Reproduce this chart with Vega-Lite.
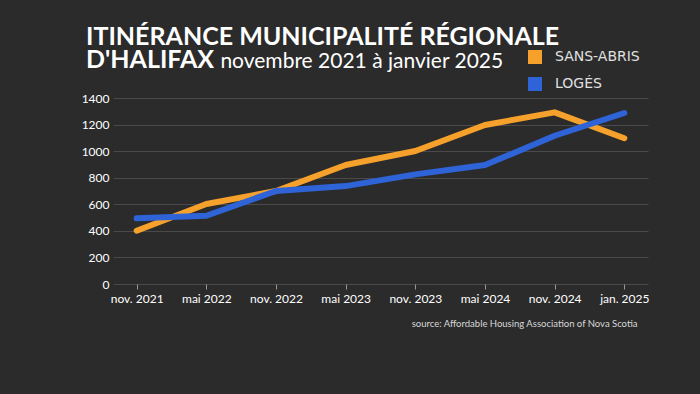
{
  "$schema": "https://vega.github.io/schema/vega-lite/v6.json",
  "width": 535,
  "height": 186,
  "autosize": "none",
  "padding": {"left": 113, "top": 98, "right": 52, "bottom": 110},
  "background": "#2b2b2b",
  "title": {
    "text": ["ITINÉRANCE MUNICIPALITÉ RÉGIONALE", "D'HALIFAX"],
    "subtitle": "\u200b\u00a0\u00a0\u00a0\u00a0\u00a0\u00a0\u00a0\u00a0\u00a0\u00a0\u00a0\u00a0\u00a0\u00a0\u00a0\u00a0\u00a0\u00a0\u00a0\u00a0\u00a0\u00a0\u00a0\u00a0\u00a0novembre 2021 à janvier 2025",
    "anchor": "start",
    "frame": "group",
    "dx": -27,
    "offset": -23,
    "font": "Lato",
    "fontSize": 25,
    "fontWeight": "bold",
    "color": "#ffffff",
    "lineHeight": 23,
    "subtitleFont": "Lato",
    "subtitleFontSize": 21,
    "subtitleColor": "#ffffff",
    "subtitlePadding": -22
  },
  "data": {
    "values": [
      {"mois": "nov. 2021", "serie": "SANS-ABRIS", "valeur": 401},
      {"mois": "mai 2022", "serie": "SANS-ABRIS", "valeur": 602},
      {"mois": "nov. 2022", "serie": "SANS-ABRIS", "valeur": 700},
      {"mois": "mai 2023", "serie": "SANS-ABRIS", "valeur": 896},
      {"mois": "nov. 2023", "serie": "SANS-ABRIS", "valeur": 1001},
      {"mois": "mai 2024", "serie": "SANS-ABRIS", "valeur": 1197},
      {"mois": "nov. 2024", "serie": "SANS-ABRIS", "valeur": 1292},
      {"mois": "jan. 2025", "serie": "SANS-ABRIS", "valeur": 1097},
      {"mois": "nov. 2021", "serie": "LOGÉS", "valeur": 494},
      {"mois": "mai 2022", "serie": "LOGÉS", "valeur": 514},
      {"mois": "nov. 2022", "serie": "LOGÉS", "valeur": 700},
      {"mois": "mai 2023", "serie": "LOGÉS", "valeur": 737},
      {"mois": "nov. 2023", "serie": "LOGÉS", "valeur": 825},
      {"mois": "mai 2024", "serie": "LOGÉS", "valeur": 895},
      {"mois": "nov. 2024", "serie": "LOGÉS", "valeur": 1116},
      {"mois": "jan. 2025", "serie": "LOGÉS", "valeur": 1287}
    ]
  },
  "mark": {"type": "line", "strokeWidth": 6, "strokeCap": "round", "strokeJoin": "round"},
  "encoding": {
    "x": {
      "field": "mois",
      "type": "ordinal",
      "sort": null,
      "scale": {"type": "point", "padding": 0.34},
      "axis": {
        "title": "source: Affordable Housing Association of Nova Scotia",
        "titleFont": "Lato",
        "titleFontSize": 9.5,
        "titleFontWeight": "normal",
        "titleColor": "#d8d8d8",
        "titleAnchor": "end",
        "titleAlign": "right",
        "titleX": 524,
        "titleY": 42,
        "titleBaseline": "alphabetic",
        "labelAngle": 0,
        "labelColor": "#ffffff",
        "labelFont": "Lato",
        "labelFontSize": 12,
        "labelPadding": 4,
        "domain": false,
        "tickColor": "#9a9a9a",
        "tickSize": 5,
        "grid": false
      }
    },
    "y": {
      "field": "valeur",
      "type": "quantitative",
      "scale": {"domain": [0, 1400]},
      "axis": {
        "title": null,
        "values": [0, 200, 400, 600, 800, 1000, 1200, 1400],
        "format": "d",
        "labelColor": "#ffffff",
        "labelFont": "Lato",
        "labelFontSize": 12,
        "labelPadding": 4,
        "domain": false,
        "ticks": false,
        "grid": true,
        "gridColor": "#4a4a4a",
        "gridWidth": 1
      }
    },
    "color": {
      "field": "serie",
      "type": "nominal",
      "sort": ["SANS-ABRIS", "LOGÉS"],
      "scale": {"domain": ["SANS-ABRIS", "LOGÉS"], "range": ["#f6a12b", "#2f63d8"]},
      "legend": {
        "title": null,
        "orient": "none",
        "legendX": 415,
        "legendY": -48,
        "symbolType": "square",
        "symbolSize": 49,
        "symbolStrokeWidth": 7,
        "symbolOpacity": 1,
        "rowPadding": -9,
        "labelColor": "#e0e0e0",
        "labelFont": "DejaVu Sans",
        "labelFontSize": 14,
        "labelOffset": 13
      }
    }
  },
  "config": {"view": {"stroke": null}}
}
